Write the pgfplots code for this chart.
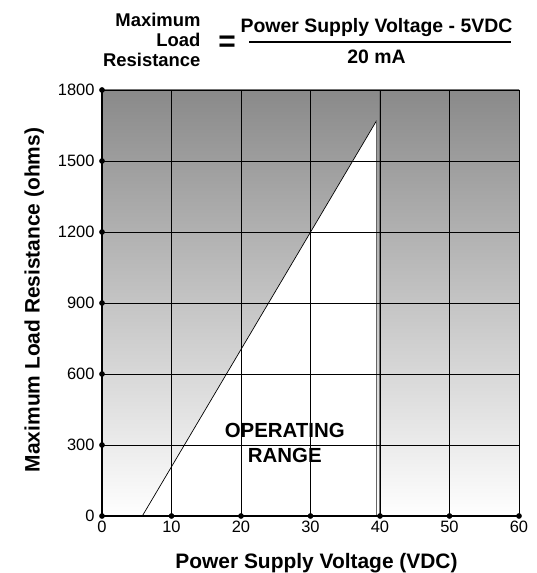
\documentclass[border=0pt]{standalone}
\usepackage{pgfplots}
\pgfplotsset{compat=1.18}
\usepackage{fontspec}
\setmainfont{Liberation Sans}
\begin{document}
\begin{tikzpicture}
\begin{axis}[
  scale only axis, width=417bp, height=426bp,
  xmin=0, xmax=60, ymin=0, ymax=1800,
  xtick={0,10,...,60}, ytick={0,300,...,1800},
  grid=major, major grid style={black, line width=0.6pt},
  axis on top=true,
  axis line style={draw=none},
  major tick length=0pt,
  clip=false,
  /pgf/number format/assume math mode=true,
  /pgf/number format/1000 sep={},
  ticklabel style={font=\fontsize{16.5}{19}\selectfont},
  xticklabel style={yshift=-2bp},
  yticklabel style={xshift=-4bp},
  xlabel={\bfseries Power Supply Voltage (VDC)},
  ylabel={\bfseries Maximum Load Resistance (ohms)},
  label style={font=\fontsize{21}{24}\selectfont},
  xlabel style={yshift=-13bp, xshift=6bp},
  ylabel style={yshift=7bp, xshift=3bp},
  axis background/.style={shade, top color=black!46, bottom color=white},
]
\addplot[fill=white, draw=none] coordinates {(5.8,0) (39.5,1670) (39.5,0)} \closedcycle;
\addplot[black, line width=0.7pt] coordinates {(5.8,0) (39.5,1670)};
\addplot[black!60, line width=1pt] coordinates {(39.5,1670) (39.5,0)};
\addplot[black!55, line width=1.2pt] coordinates {(40,0) (40,1800)};
\addplot[black!55, line width=1pt] coordinates {(0,1800) (60,1800)};
\addplot[black, line width=1pt] coordinates {(60,1800) (60,0)};
\addplot[black, line width=1.6pt] coordinates {(0,1800) (0,0) (60,0)};
\addplot[only marks, mark=*, mark size=2.6pt, black] coordinates {
 (0,0) (10,0) (20,0) (30,0) (40,0) (50,0) (60,0)
 (0,300) (0,600) (0,900) (0,1200) (0,1500) (0,1800)};
\node[font=\bfseries\fontsize{20.5}{25}\selectfont, align=center] at (axis cs:26.3,310) {OPERATING\\RANGE};
\end{axis}
\begin{scope}[shift={(current axis.north west)}]
\node[anchor=east, align=right, font=\bfseries\fontsize{18.5}{20}\selectfont] at (102bp,50bp) {Maximum\\Load\\Resistance};
\node[font=\bfseries\fontsize{30}{30}\selectfont] at (125bp,46bp) {=};
\node[font=\bfseries\fontsize{19.5}{22}\selectfont] at (274.5bp,62bp) {Power Supply Voltage - 5VDC};
\draw[line width=1.8pt] (147bp,47.7bp) -- (409bp,47.7bp);
\node[font=\bfseries\fontsize{19.5}{22}\selectfont] at (274.5bp,33bp) {20 mA};
\end{scope}
\pgfresetboundingbox
\path (current axis.north west) ++(-102bp,90bp) coordinate (tl);
\path (current axis.north west) ++(435bp,-483bp) coordinate (br);
\useasboundingbox (tl) rectangle (br);
\end{tikzpicture}
\end{document}
